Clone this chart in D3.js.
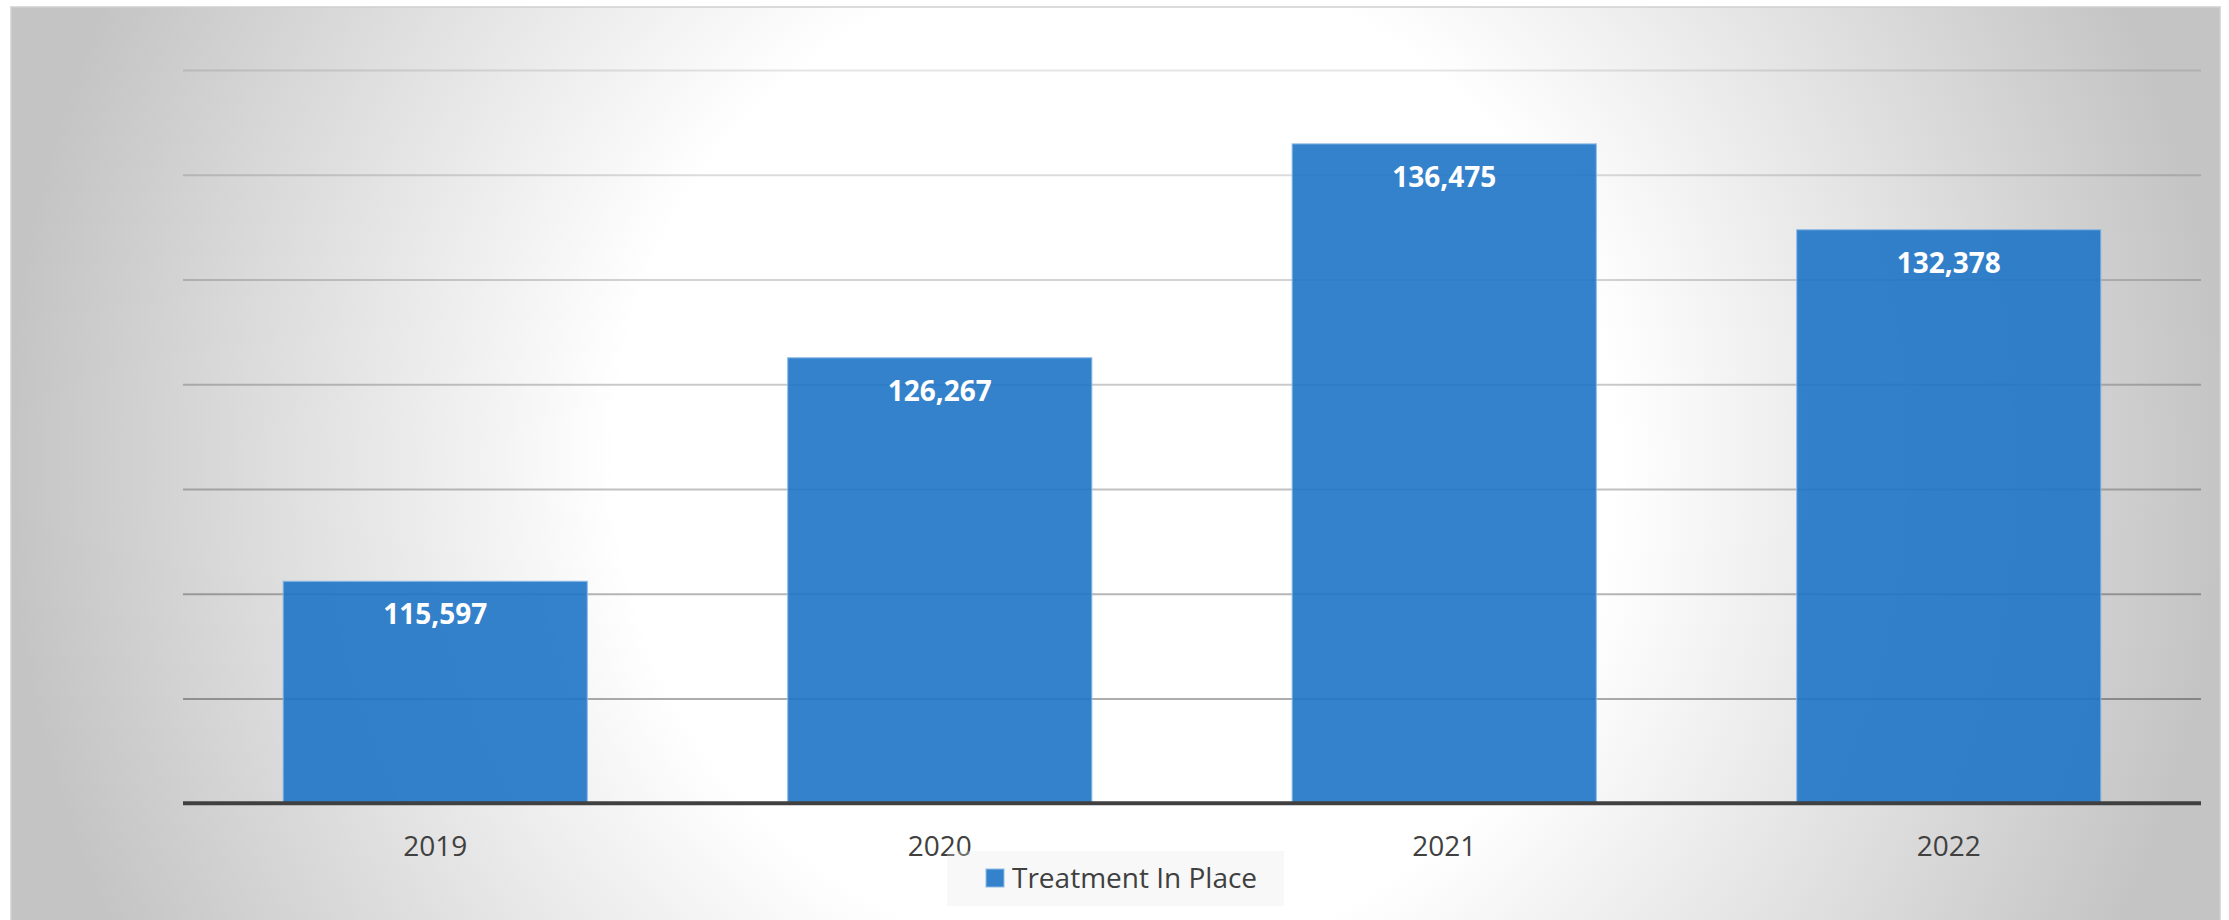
<!DOCTYPE html>
<html>
<head>
<meta charset="utf-8">
<script src="https://cdn.jsdelivr.net/npm/d3@7"></script>
<style>
  html, body { margin: 0; padding: 0; background: #ffffff; }
  svg { display: block; }
  text { font-family: "Open Sans", "Noto Sans", sans-serif; }
</style>
</head>
<body>
<svg id="chart" width="2229" height="920"></svg>
<script>
// ---- data ----
const categories = ["2019", "2020", "2021", "2022"];
const values = [115597, 126267, 136475, 132378];
const seriesName = "Treatment In Place";
const yTicks = [105000, 110000, 115000, 120000, 125000, 130000, 135000, 140000];
const yDomain = [105000, 140000];

// ---- layout ----
const W = 2229, H = 920;
const plot = { left: 183, right: 2201, top: 70, bottom: 803.3 };
const barColor = "#1f74c6";

const svg = d3.select("#chart");
const defs = svg.append("defs");

// background radial gradient
const rg = defs.append("radialGradient")
  .attr("id", "bg").attr("gradientUnits", "userSpaceOnUse")
  .attr("cx", 1115).attr("cy", 460).attr("r", 1110);
rg.append("stop").attr("offset", 0).attr("stop-color", "#ffffff");
rg.append("stop").attr("offset", 0.45).attr("stop-color", "#ffffff");
rg.append("stop").attr("offset", 1).attr("stop-color", "#c4c4c4");

svg.append("rect")
  .attr("x", 11).attr("y", 7).attr("width", 2209).attr("height", 920)
  .attr("fill", "url(#bg)").attr("stroke", "#cfcfcf").attr("stroke-width", 1.5);

const x = d3.scaleBand().domain(categories)
  .range([plot.left, plot.right]).paddingInner(0.397).paddingOuter(0.1985);
const y = d3.scaleLinear().domain(yDomain).range([plot.bottom, plot.top]);

// gridlines (darker toward the bottom)
const gridAlpha = d3.scaleLinear().domain([plot.top, plot.bottom]).range([0.1, 0.36]);
const gridAxis = d3.axisLeft(y).tickValues(yTicks.slice(1))
  .tickSize(-(plot.right - plot.left)).tickFormat("");
const gG = svg.append("g").attr("transform", `translate(${plot.left},0)`).call(gridAxis);
gG.select(".domain").remove();
gG.selectAll(".tick line")
  .attr("stroke", "#000")
  .attr("stroke-width", 2)
  .attr("stroke-opacity", d => gridAlpha(y(d)));

// bars
svg.append("g").selectAll("rect")
  .data(categories.map((c, i) => ({ c, v: values[i] })))
  .join("rect")
  .attr("x", d => x(d.c))
  .attr("y", d => y(d.v))
  .attr("width", x.bandwidth())
  .attr("height", d => y(yDomain[0]) - y(d.v))
  .attr("fill", barColor)
  .attr("fill-opacity", 0.9)
  .attr("stroke", "#8fbbe6")
  .attr("stroke-opacity", 0.8)
  .attr("stroke-width", 1.2);

// bar value labels
const fmt = d3.format(",");
svg.append("g").selectAll("text")
  .data(categories.map((c, i) => ({ c, v: values[i] })))
  .join("text")
  .attr("x", d => x(d.c) + x.bandwidth() / 2)
  .attr("y", d => y(d.v) + 43)
  .attr("text-anchor", "middle")
  .attr("fill", "#ffffff")
  .attr("font-weight", 700)
  .attr("font-size", 28)
  .text(d => fmt(d.v));

// category axis
const xAxis = d3.axisBottom(x).tickSize(0).tickPadding(0);
const xG = svg.append("g").attr("transform", `translate(0,${y(yDomain[0])})`).call(xAxis);
xG.select(".domain")
  .attr("stroke", "#404040").attr("stroke-width", 4)
  .attr("d", `M${plot.left},0H${plot.right}`);
xG.selectAll(".tick text")
  .attr("y", 52.7).attr("dy", null)
  .attr("font-family", "'Open Sans', sans-serif")
  .attr("font-size", 28)
  .attr("fill", "#404040");

// legend (translucent box, category label shows through)
const lg = svg.append("g");
lg.append("rect").attr("x", 947).attr("y", 851).attr("width", 337).attr("height", 55)
  .attr("fill", "#e8e8e8").attr("fill-opacity", 0.3);
lg.append("rect").attr("x", 986).attr("y", 869).attr("width", 18).attr("height", 18)
  .attr("fill", barColor).attr("fill-opacity", 0.9)
  .attr("stroke", "#8fbbe6").attr("stroke-width", 1);
lg.append("text").attr("x", 1012).attr("y", 888)
  .attr("font-size", 28).attr("fill", "#404040")
  .text(seriesName);
</script>
</body>
</html>
